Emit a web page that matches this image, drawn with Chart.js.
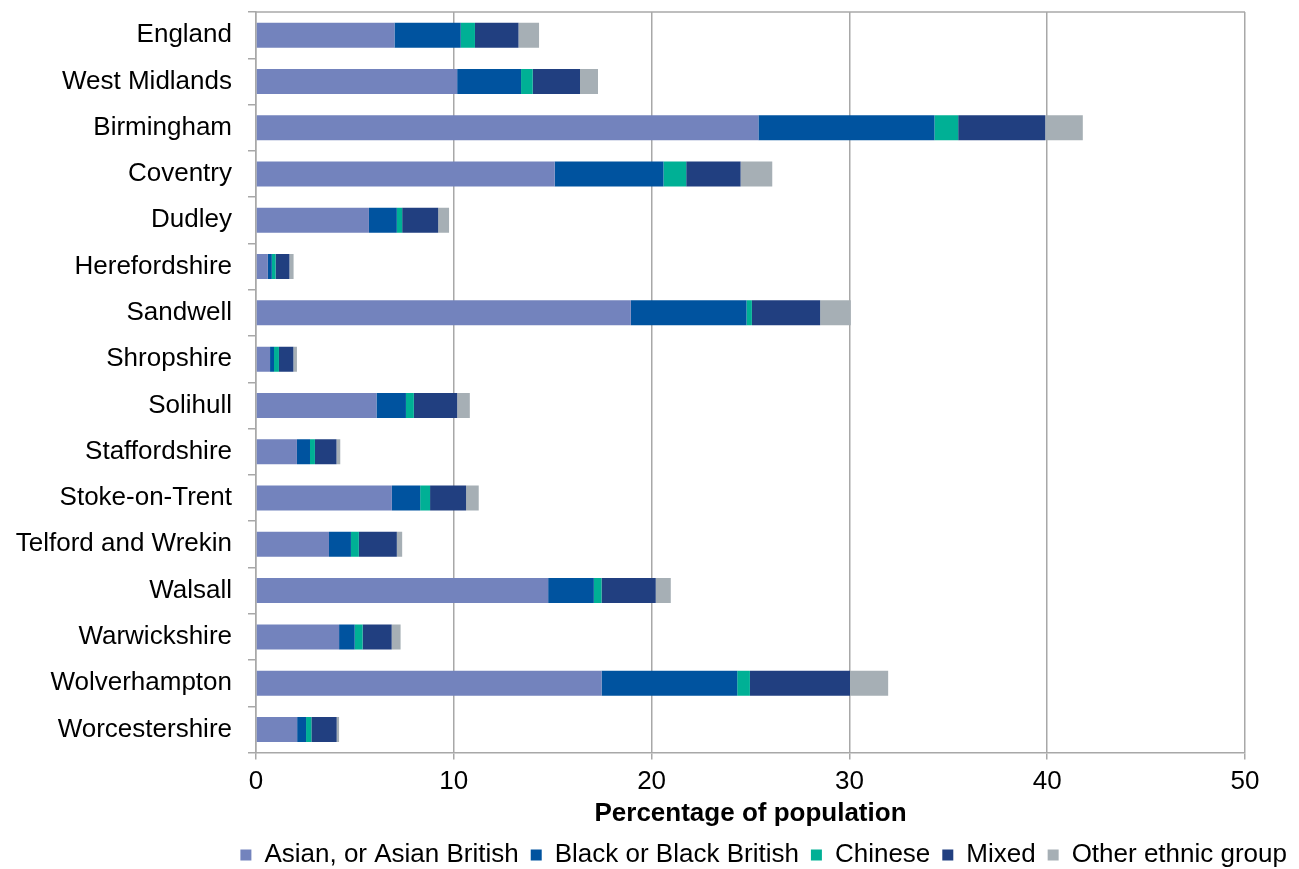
<!DOCTYPE html>
<html>
<head>
<meta charset="utf-8">
<script src="https://cdn.jsdelivr.net/npm/chart.js@4/dist/chart.umd.min.js"></script>
<style>
  html, body { margin: 0; padding: 0; background: #ffffff; }
  #wrap { width: 1299px; height: 869px; position: relative; }
</style>
</head>
<body>
<div id="wrap"><canvas id="chart"></canvas></div>
<script>
// Areas shown, top to bottom
const areas = [
  'England', 'West Midlands', 'Birmingham', 'Coventry', 'Dudley', 'Herefordshire',
  'Sandwell', 'Shropshire', 'Solihull', 'Staffordshire', 'Stoke-on-Trent',
  'Telford and Wrekin', 'Walsall', 'Warwickshire', 'Wolverhampton', 'Worcestershire'
];

// Share of population (%) by ethnic group
const asian   = [7.0, 10.17, 25.4, 15.1, 5.71, 0.6, 18.95, 0.71, 6.09, 2.07, 6.87, 3.69, 14.77, 4.2, 17.47, 2.08];
const black   = [3.35, 3.23, 8.9, 5.5, 1.41, 0.2, 5.85, 0.2, 1.49, 0.66, 1.43, 1.11, 2.31, 0.79, 6.86, 0.45];
const chinese = [0.72, 0.59, 1.2, 1.15, 0.27, 0.19, 0.27, 0.25, 0.4, 0.25, 0.5, 0.4, 0.39, 0.4, 0.64, 0.27];
const mixed   = [2.2, 2.39, 4.4, 2.75, 1.82, 0.7, 3.45, 0.73, 2.19, 1.09, 1.82, 1.92, 2.74, 1.47, 5.06, 1.28];
const other   = [1.04, 0.91, 1.9, 1.6, 0.55, 0.21, 1.55, 0.18, 0.64, 0.19, 0.64, 0.27, 0.76, 0.45, 1.93, 0.12];

// Axis ticks
const xTicks = [0, 10, 20, 30, 40, 50];

const FONT = 'Liberation Sans, Arial, sans-serif';
const GRID = '#a8a8a8';

// Thin frame line along the top of the plot area
const topFrame = {
  id: 'topFrame',
  afterDraw(chart) {
    const { ctx, chartArea } = chart;
    ctx.save();
    ctx.strokeStyle = GRID;
    ctx.lineWidth = 1.5;
    ctx.beginPath();
    ctx.moveTo(chartArea.left, chartArea.top);
    ctx.lineTo(chartArea.right, chartArea.top);
    ctx.stroke();
    ctx.restore();
  }
};

const mk = (label, data, color) => ({
  label, data,
  backgroundColor: color,
  borderWidth: 0,
  categoryPercentage: 1.0,
  barPercentage: 0.54
});

new Chart(document.getElementById('chart'), {
  type: 'bar',
  data: {
    labels: areas,
    datasets: [
      mk('Asian, or Asian British', asian, '#7383bd'),
      mk('Black or Black British', black, '#00539f'),
      mk('Chinese', chinese, '#00b095'),
      mk('Mixed', mixed, '#213f80'),
      mk('Other ethnic group', other, '#a6afb5')
    ]
  },
  options: {
    indexAxis: 'y',
    responsive: true,
    maintainAspectRatio: false,
    animation: false,
    layout: { padding: { top: 12, left: 0, right: 0, bottom: -9 } },
    plugins: {
      tooltip: { enabled: false },
      legend: {
        position: 'bottom',
        align: 'end',
        labels: {
          font: { family: FONT, size: 26 },
          color: '#000000',
          boxWidth: 11,
          boxHeight: 11,
          padding: 12
        }
      }
    },
    scales: {
      x: {
        stacked: true,
        min: 0,
        max: 50,
        afterBuildTicks(scale) { scale.ticks = xTicks.map(v => ({ value: v })); },
        grid: { color: GRID, lineWidth: 1.5, tickLength: 7, drawTicks: true },
        border: { color: GRID, width: 1.5 },
        ticks: { font: { family: FONT, size: 26 }, color: '#000000', padding: 7 },
        title: {
          display: true,
          text: 'Percentage of population',
          font: { family: FONT, size: 26, weight: 'bold' },
          color: '#000000',
          padding: { top: -7, bottom: 1 }
        }
      },
      y: {
        stacked: true,
        afterFit(scale) {
          scale.width = 256;
          scale.paddingTop = 0;
          scale.paddingBottom = 0;
        },
        grid: { display: true, drawOnChartArea: false, drawTicks: true, tickLength: 8, color: GRID, lineWidth: 1.5, offset: true },
        border: { color: GRID, width: 1.5 },
        ticks: { font: { family: FONT, size: 26 }, color: '#000000', padding: 16, autoSkip: false }
      },
      yRight: {
        type: 'linear',
        axis: 'y',
        position: 'right',
        display: true,
        afterFit(scale) {
          scale.width = 54;
          scale.paddingTop = 0;
          scale.paddingBottom = 0;
        },
        grid: { display: false, drawTicks: false },
        border: { display: false },
        ticks: { display: false }
      }
    }
  },
  plugins: [topFrame]
});
</script>
</body>
</html>
